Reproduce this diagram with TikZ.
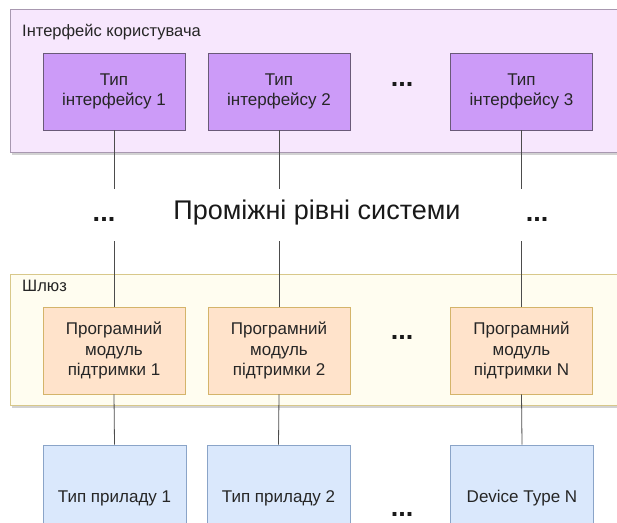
\documentclass[tikz,border=0pt]{standalone}
\usepackage{fontspec}
\setmainfont{Liberation Sans}
\usetikzlibrary{shadows}
\definecolor{uipanel}{HTML}{F7E7FD}
\definecolor{uistroke}{HTML}{A898B0}
\definecolor{uibox}{HTML}{CC9BF8}
\definecolor{uiboxstroke}{HTML}{6A5A78}
\definecolor{gwpanel}{HTML}{FFFDF0}
\definecolor{gwstroke}{HTML}{D8C88A}
\definecolor{gwbox}{HTML}{FFE3CB}
\definecolor{gwboxstroke}{HTML}{D4B46A}
\definecolor{devbox}{HTML}{DAE8FC}
\definecolor{devstroke}{HTML}{8AA4C8}
\begin{document}
\begin{tikzpicture}[x=1pt,y=-1pt,
  panelshadow/.style={drop shadow={shadow xshift=1.5pt,shadow yshift=-3pt,opacity=0.35,fill=gray}},
  uipanelbox/.style={draw=uistroke,fill=uipanel,line width=0.8pt,panelshadow},
  gwpanelbox/.style={draw=gwstroke,fill=gwpanel,line width=0.8pt,panelshadow},
  boxtext/.style={font=\fontsize{17}{20.5}\selectfont,align=center,text=black!85,inner sep=0pt},
  uiboxst/.style={boxtext,draw=uiboxstroke,fill=uibox,line width=0.8pt,minimum width=142pt,minimum height=77pt},
  gwboxst/.style={boxtext,draw=gwboxstroke,fill=gwbox,line width=0.8pt,minimum width=142pt,minimum height=87pt},
  devboxst/.style={boxtext,draw=devstroke,fill=devbox,line width=0.8pt,minimum width=143pt,minimum height=106pt},
  paneltitle/.style={font=\fontsize{16.5}{18}\selectfont,anchor=west,inner sep=0pt,text=black!85},
  dotsst/.style={font=\fontsize{27}{27}\bfseries,inner sep=0pt,anchor=base,text=black!90},
  link/.style={draw=black!70,line width=0.8pt}
]
\useasboundingbox (0,0) rectangle (617,522);
\fill[white] (0,0) rectangle (617,522);

% panels
\path[uipanelbox] (10,9) rectangle (640,152);
\path[gwpanelbox] (10,274) rectangle (640,405);
\node[paneltitle] (uititle) at (22,32) {Інтерфейс користувача};
\node[paneltitle] (gwtitle) at (22,286) {Шлюз};

% interface boxes
\node[uiboxst] (i1) at (114,91.5) {Тип\\інтерфейсу 1};
\node[uiboxst] (i2) at (279,91.5) {Тип\\інтерфейсу 2};
\node[uiboxst] (i3) at (521.5,91.5) {Тип\\інтерфейсу 3};
\node[dotsst] (d1) at (402,86) {...};

% gateway boxes
\node[gwboxst] (g1) at (114,350.5) {Програмний\\модуль\\підтримки 1};
\node[gwboxst] (g2) at (279,350.5) {Програмний\\модуль\\підтримки 2};
\node[gwboxst] (g3) at (521.5,350.5) {Програмний\\модуль\\підтримки N};
\node[dotsst] (d2) at (402,339) {...};

% device boxes
\node[devboxst] (v1) at (114.5,498) {Тип приладу 1};
\node[devboxst] (v2) at (278.5,498) {Тип приладу 2};
\node[devboxst] (v3) at (522,498) {Device Type N};
\node[dotsst] (d3) at (402,516.5) {...};

% middle layer
\node[font=\fontsize{27}{29}\selectfont,inner sep=0pt,anchor=base,text=black!90] (mid) at (317,219) {Проміжні рівні системи};
\node[dotsst] (m1) at (104,221) {...};
\node[dotsst] (m2) at (537,221) {...};

\coordinate (a1) at (114,189);
\coordinate (a2) at (279,189);
\coordinate (a3) at (521.5,189);
\coordinate (b1) at (114,241);
\coordinate (b2) at (279,241);
\coordinate (b3) at (521.5,241);

\draw[link] (i1.south) -- (a1);
\draw[link] (i2.south) -- (a2);
\draw[link] (i3.south) -- (a3);
\draw[link] (b1) -- (g1.north);
\draw[link] (b2) -- (g2.north);
\draw[link] (b3) -- (g3.north);
\draw[link] (g1.south) -- (v1.north);
\draw[link] (g2.south) -- (v2.north);
\draw[link] (g3.south) -- (v3.north);
\end{tikzpicture}
\end{document}
